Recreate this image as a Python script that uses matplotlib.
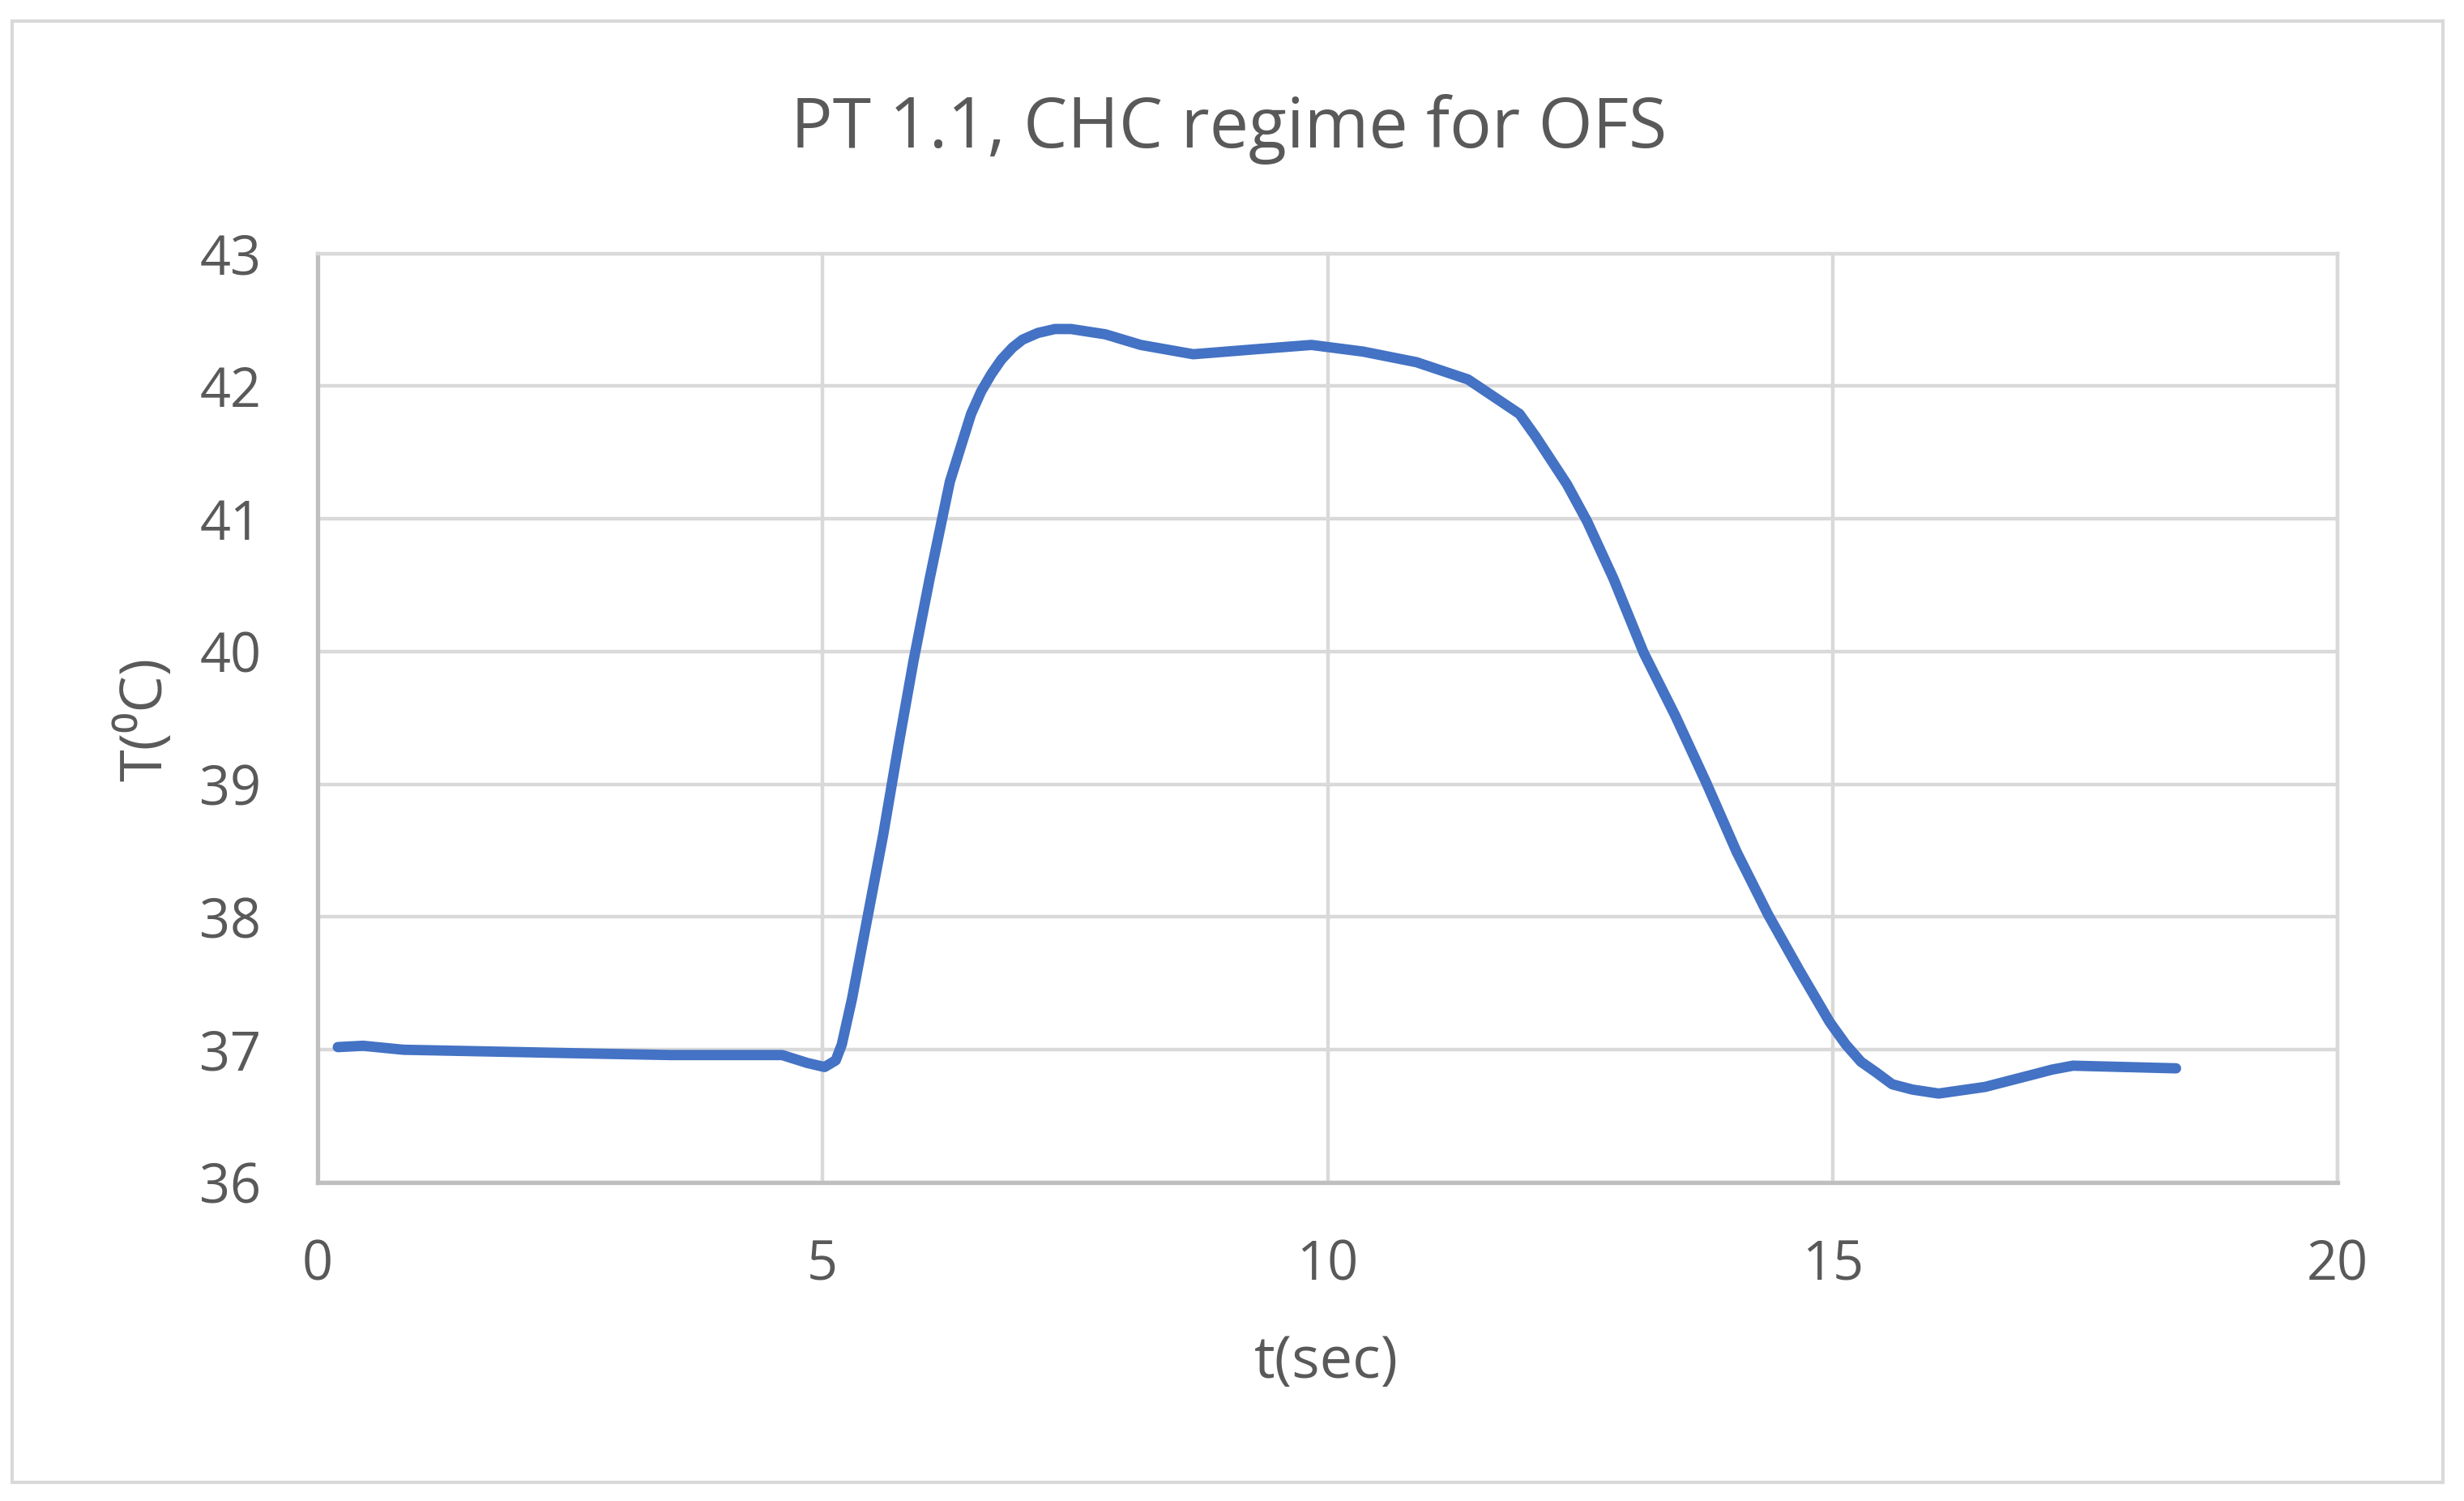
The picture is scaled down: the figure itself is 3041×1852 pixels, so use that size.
import matplotlib
matplotlib.use('Agg')
import matplotlib.pyplot as plt
from matplotlib.patches import Rectangle

# Values
t_sec = [0.2, 0.45, 0.85, 1.5, 2.8, 3.5, 4.6, 4.85, 5.02, 5.13, 5.19, 5.29,
         5.44, 5.6, 5.75, 5.9, 6.06, 6.26, 6.47, 6.57, 6.67, 6.77, 6.88, 6.98,
         7.13, 7.3, 7.46, 7.8, 8.15, 8.67, 9.33, 9.84, 10.35, 10.88, 11.39,
         11.9, 12.06, 12.37, 12.57, 12.83, 13.13, 13.44, 13.75, 14.05,
         14.36, 14.67, 14.97, 15.13, 15.28, 15.43, 15.59, 15.79, 16.05, 16.51,
         17.02, 17.17, 17.38, 17.89, 18.4]
temp_c = [37.02, 37.03, 37.0, 36.99, 36.97, 36.96, 36.96, 36.9, 36.87, 36.92,
          37.04, 37.38, 37.98, 38.62, 39.29, 39.93, 40.55, 41.28, 41.79, 41.96,
          42.09, 42.2, 42.29, 42.35, 42.4, 42.43, 42.43, 42.39, 42.31, 42.24,
          42.28, 42.31, 42.26, 42.18, 42.05, 41.79, 41.62, 41.26, 40.98,
          40.55, 39.99, 39.52, 39.01, 38.49, 38.02, 37.6, 37.21, 37.04, 36.91,
          36.83, 36.74, 36.7, 36.67, 36.72, 36.82, 36.85, 36.88, 36.87, 36.86]
x_ticks = [0, 5, 10, 15, 20]
y_ticks = [36, 37, 38, 39, 40, 41, 42, 43]

TEXT = '#595959'
GRID = '#D9D9D9'
AXIS = '#BFBFBF'
BLUE = '#4472C4'

plt.rcParams['font.family'] = ['Open Sans', 'DejaVu Sans']

W, H = 3041, 1852
fig = plt.figure(figsize=(W / 200, H / 200), dpi=200)
fig.patch.set_facecolor('white')

# chart border
fig.patches.append(Rectangle((15 / W, 1 - 1829 / H), 3000 / W, 1803 / H,
                             transform=fig.transFigure, fill=False,
                             edgecolor=GRID, linewidth=1.5))

ax = fig.add_axes([392 / W, 1 - 1459 / H, (2885 - 392) / W, (1459 - 312.6) / H])
ax.plot(t_sec, temp_c, color=BLUE, linewidth=4.6, solid_capstyle='round',
        solid_joinstyle='round', zorder=3)

ax.set_xlim(0, 20)
ax.set_ylim(36, 43)
ax.set_xticks(x_ticks)
ax.set_yticks(y_ticks)
ax.grid(True, color=GRID, linewidth=1.6)
ax.set_axisbelow(True)
ax.tick_params(length=0, labelsize=24, labelcolor=TEXT, pad=25)
for s in ['top', 'right']:
    ax.spines[s].set_color(GRID)
    ax.spines[s].set_linewidth(1.6)
for s in ['left', 'bottom']:
    ax.spines[s].set_color(AXIS)
    ax.spines[s].set_linewidth(1.9)

fig.text(1517 / W, 1 - 182 / H, 'PT 1.1, CHC regime for OFS', ha='center',
         va='baseline', fontsize=31, color=TEXT)
fig.text(1637 / W, 1 - 1700 / H, 't(sec)', ha='center', va='baseline',
         fontsize=26, color=TEXT)
fig.text(199 / W, 1 - 887 / H, 'T(\u2070C)', ha='center', va='baseline',
         rotation=90, rotation_mode='anchor', fontsize=26, color=TEXT)

fig.savefig('out.png', dpi=200)
